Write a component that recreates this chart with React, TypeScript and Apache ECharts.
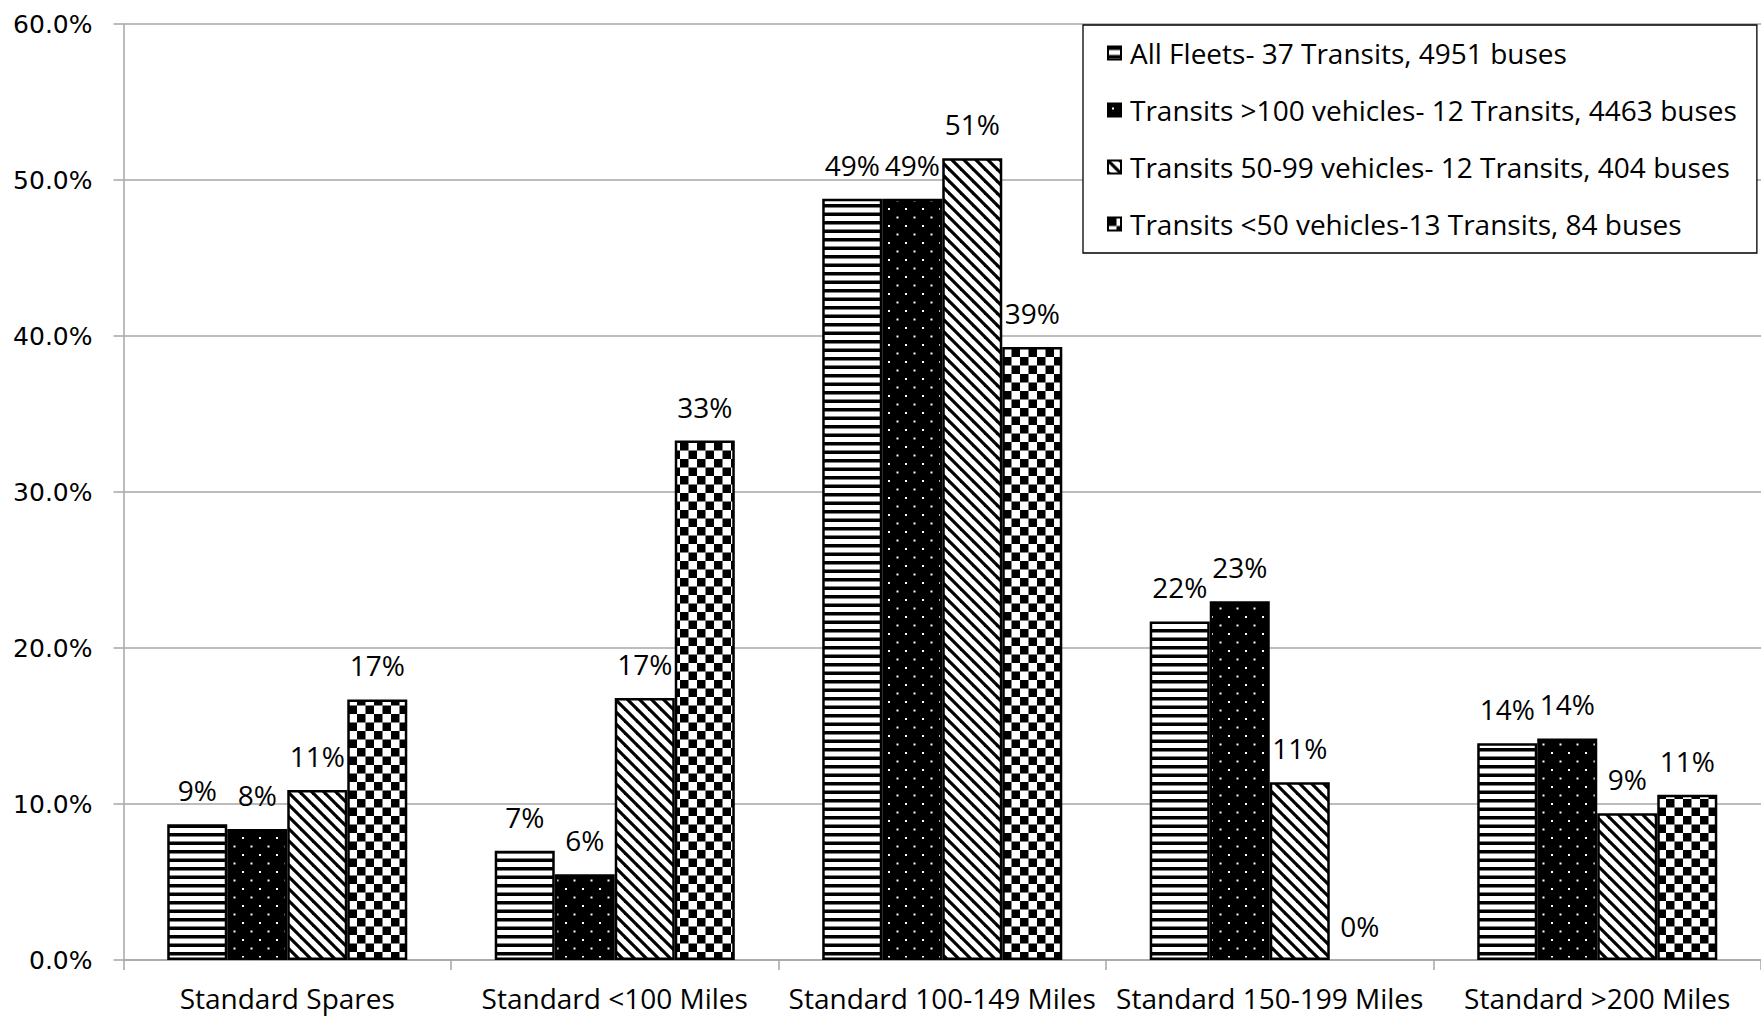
import React, { useEffect, useRef } from "react";
import * as echarts from "echarts";

const categories = [
  "Standard Spares",
  "Standard <100 Miles",
  "Standard 100-149 Miles",
  "Standard 150-199 Miles",
  "Standard >200 Miles",
];

const seriesNames = [
  "All Fleets- 37 Transits, 4951 buses",
  "Transits >100 vehicles- 12 Transits, 4463 buses",
  "Transits 50-99 vehicles- 12 Transits, 404 buses",
  "Transits <50 vehicles-13 Transits, 84 buses",
];

const allFleets = [8.7, 7.0, 48.8, 21.7, 13.9];
const over100 = [8.4, 5.5, 48.8, 23.0, 14.2];
const from50to99 = [10.9, 16.8, 51.4, 11.4, 9.4];
const under50 = [16.7, 33.3, 39.3, 0, 10.6];

const yTicks = { min: 0, max: 60, interval: 10 };

function makeTile(w: number, h: number, draw: (ctx: CanvasRenderingContext2D) => void) {
  const c = document.createElement("canvas");
  c.width = w;
  c.height = h;
  const ctx = c.getContext("2d")!;
  draw(ctx);
  return { image: c.toDataURL(), imageWidth: w, imageHeight: h, repeat: "repeat" };
}

function buildPatterns() {
  const horiz = makeTile(17, 17, (ctx) => {
    ctx.fillStyle = "#fff";
    ctx.fillRect(0, 0, 17, 17);
    ctx.fillStyle = "#000";
    ctx.fillRect(0, 0, 17, 3.5);
    ctx.fillRect(0, 8.5, 17, 3.5);
  });
  const dots = makeTile(17, 17, (ctx) => {
    ctx.fillStyle = "#000";
    ctx.fillRect(0, 0, 17, 17);
    ctx.fillStyle = "#fff";
    ctx.fillRect(4, 4, 2, 2);
    ctx.fillRect(12.5, 12.5, 2, 2);
  });
  const diag = makeTile(12, 12, (ctx) => {
    ctx.fillStyle = "#fff";
    ctx.fillRect(0, 0, 12, 12);
    ctx.strokeStyle = "#000";
    ctx.lineWidth = 3.2;
    for (const x0 of [-12, 0, 12]) {
      ctx.beginPath();
      ctx.moveTo(x0 - 2, -2);
      ctx.lineTo(x0 + 14, 14);
      ctx.stroke();
    }
  });
  const checker = makeTile(17, 17, (ctx) => {
    ctx.fillStyle = "#fff";
    ctx.fillRect(0, 0, 17, 17);
    ctx.fillStyle = "#000";
    ctx.fillRect(0, 0, 8.5, 8.5);
    ctx.fillRect(8.5, 8.5, 8.5, 8.5);
  });
  return [horiz, dots, diag, checker];
}

export default function App() {
  const ref = useRef<HTMLDivElement>(null);

  useEffect(() => {
    document.body.style.margin = "0";
    if (!ref.current) return;
    const chart = echarts.init(ref.current, null, { renderer: "svg" });
    const patterns = buildPatterns();
    const dataSets = [allFleets, over100, from50to99, under50];
    const gray = "#a6a6a6";

    chart.setOption({
      animation: false,
      backgroundColor: "#fff",
      grid: { left: 123.5, right: 0, top: 24, bottom: 56, containLabel: false },
      legend: {
        show: true,
        orient: "vertical",
        left: 1083,
        top: 25,
        selectedMode: false,
        icon: "rect",
        itemWidth: 13,
        itemHeight: 13,
        itemGap: 25,
        padding: [12, 20, 13, 24],
        backgroundColor: "#fff",
        borderColor: "#000",
        borderWidth: 1.3,
        borderRadius: 0,
        textStyle: {
          fontFamily: "Open Sans",
          fontSize: 28,
          lineHeight: 32,
          color: "#000",
          padding: [0, 0, 0, 4],
        },
        data: seriesNames,
      },
      xAxis: {
        type: "category",
        data: categories,
        axisLine: { show: true, lineStyle: { color: gray, width: 1.5 } },
        axisTick: { show: true, length: 10, lineStyle: { color: gray, width: 1.5 } },
        axisLabel: {
          margin: 22,
          fontFamily: "Open Sans",
          fontSize: 28,
          lineHeight: 32,
          color: "#000",
          interval: 0,
        },
        splitLine: { show: false },
      },
      yAxis: {
        type: "value",
        min: yTicks.min,
        max: yTicks.max,
        interval: yTicks.interval,
        axisLine: { show: true, lineStyle: { color: gray, width: 1.5 } },
        axisTick: { show: true, length: 10, lineStyle: { color: gray, width: 1.5 } },
        axisLabel: {
          margin: 31,
          fontFamily: "DejaVu Sans",
          fontSize: 25,
          color: "#000",
          formatter: (v: number) => v.toFixed(1) + "%",
        },
        splitLine: { show: true, lineStyle: { color: gray, width: 1.5 } },
      },
      series: seriesNames.map((name, i) => ({
        name,
        type: "bar",
        data: dataSets[i].map((v) =>
          v === 0 ? { value: v, itemStyle: { borderWidth: 0 } } : v
        ),
        barGap: "0%",
        barCategoryGap: "26.7%",
        itemStyle: {
          color: patterns[i],
          borderColor: "#000",
          borderWidth: 2.5,
        },
        label: {
          show: true,
          position: "top",
          distance: 20,
          fontFamily: "Open Sans",
          fontSize: 28,
          color: "#000",
          formatter: (p: any) => Math.round(p.value) + "%",
        },
      })),
    });

    return () => chart.dispose();
  }, []);

  return (
    <div
      ref={ref}
      style={{ position: "absolute", left: 0, top: 0, width: 1761, height: 1016 }}
    />
  );
}
